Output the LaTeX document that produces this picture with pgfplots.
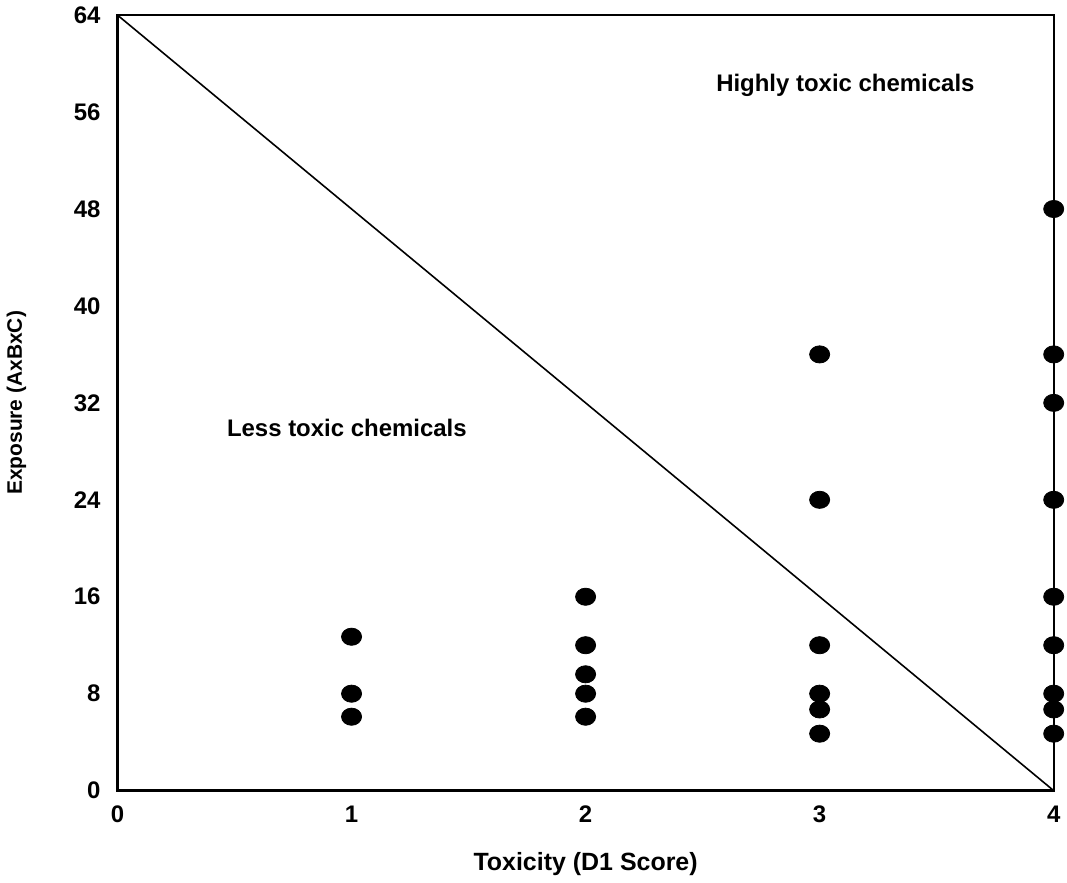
\documentclass[border=0pt]{standalone}
\usepackage{fontspec}
\setmainfont{Liberation Sans}
\usepackage{pgfplots}
\pgfplotsset{compat=1.18}

\begin{document}
\begin{tikzpicture}
\begin{axis}[
  scale only axis,
  width=469pt, height=388.5pt,
  xmin=0, xmax=4, ymin=0, ymax=64,
  xtick={0,1,2,3,4}, ytick={0,8,16,24,32,40,48,56,64},
  major tick length=0pt,
  axis line style={black, line width=1.2pt},
  tick label style={font=\fontsize{12}{14}\selectfont\bfseries},
  /pgf/number format/assume math mode=true,
  xticklabel style={yshift=-4pt},
  yticklabel style={xshift=-5pt},
  xlabel={Toxicity (D1 Score)},
  ylabel={Exposure (AxBxC)},
  xlabel style={font=\fontsize{12.5}{14}\selectfont\bfseries, yshift=-8pt},
  ylabel style={font=\fontsize{10.5}{12}\selectfont\bfseries, yshift=17pt},
  clip=false,
]
  \addplot[black, line width=0.8pt] coordinates {(0,64) (4,0)};
  \addplot[only marks, mark=*, mark size=4.3pt, mark options={black, xscale=1.17}]
    coordinates {
    (1,12.7) (1,8) (1,6.1)
    (2,16) (2,12) (2,9.6) (2,8) (2,6.1)
    (3,36) (3,24) (3,12) (3,8) (3,6.7) (3,4.7)
    (4,48) (4,36) (4,32) (4,24) (4,16) (4,12) (4,8) (4,6.7) (4,4.7)
    };
  \node[font=\fontsize{12}{14}\selectfont\bfseries] at (axis cs:3.11,58.2) {Highly toxic chemicals};
  \node[font=\fontsize{12}{14}\selectfont\bfseries] at (axis cs:0.98,29.9) {Less toxic chemicals};
\end{axis}
\end{tikzpicture}
\end{document}
